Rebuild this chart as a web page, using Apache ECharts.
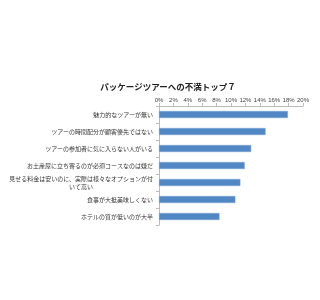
<!DOCTYPE html>
<html><head><meta charset="utf-8">
<script src="https://cdn.jsdelivr.net/npm/echarts@6/dist/echarts.min.js"></script>
<style>html,body{margin:0;padding:0;background:#fff}#c{width:320px;height:300px}</style>
</head><body><div id="c"></div>
<script>
var titleText = 'パッケージツアーへの不満トップ７';
var categories = [
  '魅力的なツアーが無い',
  'ツアーの時間配分が顧客優先ではない',
  'ツアーの参加者に気に入らない人がいる',
  'お土産屋に立ち寄るのが必須コースなのは嫌だ',
  '見せる料金は安いのに、実際は様々なオプションが付\nいて高い',
  '食事が大抵美味しくない',
  'ホテルの質が低いのが大半'
];
var values = [17.9, 14.8, 12.8, 11.9, 11.3, 10.6, 8.4];
var tickMax = 20, tickStep = 2;

var chart = echarts.init(document.getElementById('c'), null, {renderer:'canvas'});
chart.setOption({
  animation:false,
  backgroundColor:'#fff',
  title:{text:titleText, left:163, top:78, textAlign:'center',
    textStyle:{fontSize:8.5, fontWeight:'bold', color:'#222', fontFamily:'Noto Sans CJK JP'}},
  grid:{left:159, right:17, top:106, height:119},
  xAxis:{type:'value', position:'top', min:0, max:tickMax, interval:tickStep,
    axisLine:{show:true, lineStyle:{color:'#bbb', width:1}},
    axisTick:{show:true, length:3, lineStyle:{color:'#bbb'}},
    splitLine:{show:false},
    axisLabel:{formatter:'{value}%', fontSize:6, color:'#444', margin:3, fontFamily:'Liberation Sans'}
  },
  yAxis:{type:'category', inverse:true, data:categories,
    axisLine:{show:true, lineStyle:{color:'#bbb'}},
    axisTick:{show:true, length:3, lineStyle:{color:'#bbb'}},
    axisLabel:{fontSize:6, color:'#333', margin:6, lineHeight:8, fontFamily:'Noto Sans CJK JP',
      formatter:function(v){
        if(v.indexOf('\n')>=0){
          var p=v.split('\n');
          return '{a|'+p[0]+'}\n{b|'+p[1]+'}';
        }
        return v;
      },
      rich:{a:{fontSize:6, lineHeight:8, color:'#333', align:'center', fontFamily:'Noto Sans CJK JP'},
            b:{fontSize:6, lineHeight:8, color:'#333', align:'center', fontFamily:'Noto Sans CJK JP'}}
    }
  },
  series:[{type:'bar', data:values, barWidth:7,
    itemStyle:{color:'#5087c4', borderColor:'#7aa3d4', borderWidth:0.5}}]
});
</script></body></html>
